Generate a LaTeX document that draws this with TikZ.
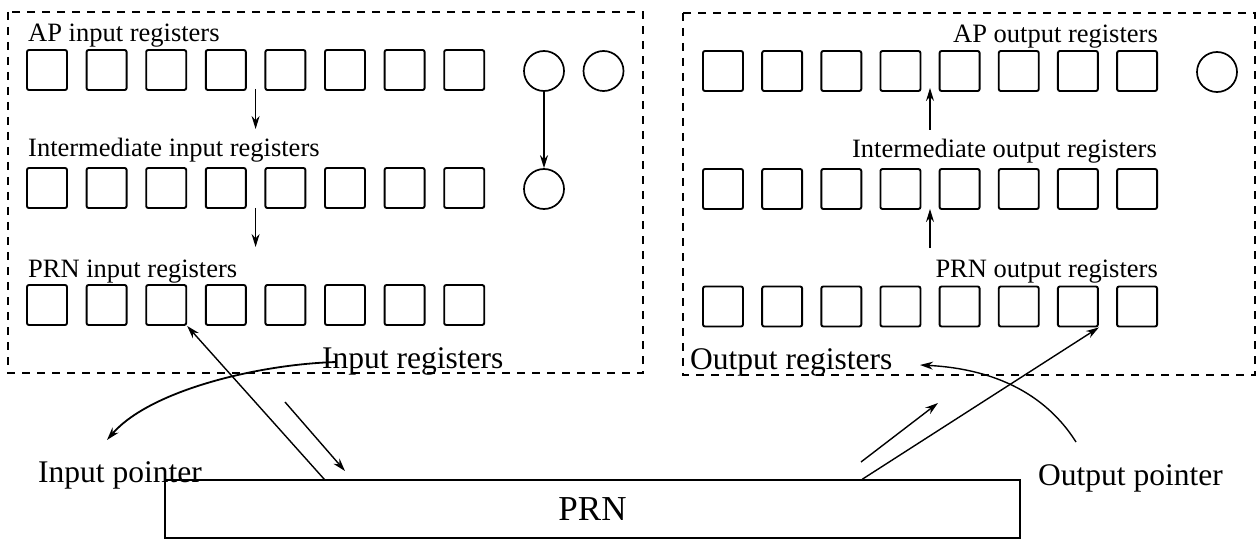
\documentclass[tikz,border=0pt]{standalone}
\usepackage{fontspec}
\setmainfont{Liberation Serif}
\usetikzlibrary{arrows.meta}
\begin{document}
\begin{tikzpicture}[x=1pt,y=-1pt,
  reg/.style={draw, line width=1.9pt, rounded corners=2pt, minimum width=40pt, minimum height=40pt, inner sep=0pt},
  flag/.style={draw, circle, line width=1.7pt, minimum size=40pt, inner sep=0pt},
  group/.style={draw, line width=1.5pt, dash pattern=on 8pt off 7pt},
  lab/.style={inner sep=0pt, font=\fontsize{26.5}{30}\selectfont},
  biglab/.style={inner sep=0pt, font=\fontsize{31.5}{36}\selectfont},
  link/.style={line width=1.4pt, -{Stealth[length=13pt,width=8pt]}},
  sweep/.style={line width=1.8pt, -{Stealth[length=13pt,width=8pt]}},
]
\useasboundingbox (0,0) rectangle (1258,540);

% register groups
\draw[group] (8,12) rectangle (643,373);
\draw[group] (683,13) rectangle (1255,375);

% register rows
\foreach \i in {0,...,7} {
  \node[reg] (ai\i) at ({47+59.6*\i},70) {};
  \node[reg] (mi\i) at ({47+59.6*\i},188) {};
  \node[reg] (pi\i) at ({47+59.6*\i},305) {};
  \node[reg] (ao\i) at ({723+59.15*\i},71) {};
  \node[reg] (mo\i) at ({723+59.15*\i},189) {};
  \node[reg] (po\i) at ({723+59.15*\i},306.5) {};
}

% flag registers
\node[flag] (fa) at (544,71) {};
\node[flag] (fb) at (603.5,71) {};
\node[flag] (fc) at (544,189) {};
\node[flag] (fo) at (1217,72) {};

% row labels
\node[lab, anchor=base west] (tai) at (28,42) {AP input registers};
\node[lab, anchor=base west] (tmi) at (28,157) {Intermediate input registers};
\node[lab, anchor=base west] (tpi) at (28,277) {PRN input registers};
\node[lab, anchor=base east] (tao) at (1158,43) {AP output registers};
\node[lab, anchor=base east] (tmo) at (1157,158) {Intermediate output registers};
\node[lab, anchor=base east] (tpo) at (1158,277) {PRN output registers};

% group labels
\node[biglab, anchor=base west] (tin) at (322,368) {Input registers};
\node[biglab, anchor=base west] (tout) at (690,369) {Output registers};
\node[biglab, anchor=base west] (tip) at (38,482) {Input pointer};
\node[biglab, anchor=base west] (top) at (1038,485) {Output pointer};

% PRN
\node[draw, line width=1.5pt, minimum width=855pt, minimum height=58pt, inner sep=0pt,
      font=\fontsize{35}{40}\selectfont] (prn) at (592.5,509) {PRN};

% transfers between rows
\coordinate (d1a) at (255.6,89);  \coordinate (d1b) at (255.6,129);
\coordinate (d2a) at (255.6,208); \coordinate (d2b) at (255.6,247);
\coordinate (u1a) at (930,130);   \coordinate (u1b) at (930,88);
\coordinate (u2a) at (930,248);   \coordinate (u2b) at (930,209);
\draw[link] (d1a) -- (d1b);
\draw[link] (d2a) -- (d2b);
\draw[link] (u1a) -- (u1b);
\draw[link] (u2a) -- (u2b);
\draw[link] (fa) -- (fc);

% PRN access
\draw[link] ([xshift=160pt]prn.north west) -- (pi2.south east);
\draw[link] ([xshift=698pt]prn.north west) -- (po6.south east);
\coordinate (sia) at (285,402); \coordinate (sib) at (345,471);
\coordinate (soa) at (861,462); \coordinate (sob) at (938,403);
\draw[link] (sia) -- (sib);
\draw[link] (soa) -- (sob);

% pointers
\coordinate (pia) at (337,362); \coordinate (pib) at (107,440);
\coordinate (poa) at (1076,442); \coordinate (pob) at (920,365);
\draw[sweep] (pia) .. controls (260,364) and (150,390) .. (pib);
\draw[link] (poa) .. controls (1040,385) and (980,368) .. (pob);
\end{tikzpicture}
\end{document}
